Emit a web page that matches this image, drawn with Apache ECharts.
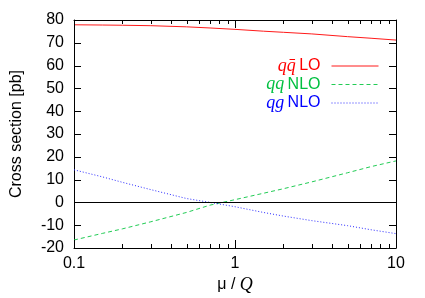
<!DOCTYPE html>
<html>
<head>
<meta charset="utf-8">
<script src="https://cdn.jsdelivr.net/npm/echarts@6/dist/echarts.min.js"></script>
<style>
html,body{margin:0;padding:0;background:#fff;}
#c{width:425px;height:298px;}
</style>
</head>
<body>
<div id="c"></div>
<script>
const mu      = [0.1, 0.15, 0.2, 0.3, 0.5, 0.7, 1, 1.5, 2, 3, 5, 7, 10];
const qqbarLO = [77.9, 77.8, 77.7, 77.5, 77.0, 76.5, 75.9, 75.1, 74.6, 73.9, 72.7, 72.0, 71.2];
const qqNLO   = [-16.5, -13.6, -11.6, -8.5, -4.4, -1.2, 1.2, 4.0, 6.0, 9.0, 13.0, 15.7, 18.2];
const qgNLO   = [14.3, 11.2, 8.8, 5.6, 1.7, 0.0, -1.9, -4.4, -6.0, -8.0, -10.2, -12.0, -13.7];
const xMajorTicks = [0.1, 1, 10];
const xMinorTicks = [0.2,0.3,0.4,0.5,0.6,0.7,0.8,0.9,2,3,4,5,6,7,8,9];
const yTicks = [-20, -10, 0, 10, 20, 30, 40, 50, 60, 70, 80];
const xMin = 0.1, xMax = 10, yMin = -20, yMax = 80, yStep = 10;
const xTitle = 'μ / ', xTitleVar = 'Q';
const yTitle = 'Cross section [pb]';

const sans = 'Liberation Sans, Arial, sans-serif';
const serif = 'Liberation Serif, DejaVu Serif, serif';

function pairs(ys){ return mu.map((x,i)=>[x, ys[i]]); }
const crisp = v => Math.round(v) + 0.5;

const chart = echarts.init(document.getElementById('c'), null, {renderer:'canvas'});

const legendText = {
  'qqbar LO': '{ir|qq\u0304} {rr|LO}',
  'qq NLO':   '{ig|qq} {rg|NLO}',
  'qg NLO':   '{ib|qg} {rb|NLO}'
};
const rich = {};
[['r','#ff0000'],['g','#00c040'],['b','#0000ff']].forEach(([k,c])=>{
  rich['i'+k] = {fontFamily:serif, fontStyle:'italic', fontSize:18, color:c, lineHeight:16};
  rich['r'+k] = {fontFamily:sans, fontSize:16, color:c, lineHeight:16, padding:[0,6,0,0]};
});

chart.setOption({
  animation:false,
  backgroundColor:'#fff',
  grid:{left:74, right:29, top:20, bottom:50, containLabel:false},
  legend:{
    orient:'vertical', align:'right', right:46, top:57, padding:0,
    itemWidth:47, itemHeight:10, itemGap:0.5,
    itemStyle:{opacity:0},
    lineStyle:{width:1},
    formatter: n => legendText[n],
    textStyle:{rich:rich},
    data:['qqbar LO','qq NLO','qg NLO']
  },
  xAxis:[
    {type:'log', logBase:10, min:xMin, max:xMax, position:'bottom',
     axisLine:{show:true, onZero:false, lineStyle:{color:'#000', width:1}},
     axisTick:{show:false},
     axisLabel:{show:true, margin:8, color:'#000', fontFamily:sans, fontSize:16, formatter: v => String(v)},
     splitLine:{show:false}, minorTick:{show:false}},
    {type:'log', logBase:10, min:xMin, max:xMax, position:'top',
     axisLine:{show:true, onZero:false, lineStyle:{color:'#000', width:1}},
     axisTick:{show:false}, axisLabel:{show:false}, splitLine:{show:false}}
  ],
  yAxis:[
    {type:'value', min:yMin, max:yMax, interval:yStep, position:'left',
     axisLine:{show:true, onZero:false, lineStyle:{color:'#000', width:1}},
     axisTick:{show:false},
     axisLabel:{margin:10, color:'#000', fontFamily:sans, fontSize:16},
     splitLine:{show:false}},
    {type:'value', min:yMin, max:yMax, interval:yStep, position:'right',
     axisLine:{show:true, onZero:false, lineStyle:{color:'#000', width:1}},
     axisTick:{show:false}, axisLabel:{show:false}, splitLine:{show:false}}
  ],
  series:[
    {name:'qqbar LO', type:'line', data:pairs(qqbarLO), symbol:'none', xAxisIndex:0, yAxisIndex:0,
     lineStyle:{color:'#ff1a1a', width:1, type:'solid'}, itemStyle:{color:'#ff1a1a'},
     markLine:{silent:true, symbol:'none', label:{show:false},
       lineStyle:{color:'#000', width:1, type:'solid'}, data:[{yAxis:0}]}},
    {name:'qq NLO', type:'line', data:pairs(qqNLO), symbol:'none', xAxisIndex:0, yAxisIndex:0,
     lineStyle:{color:'#22cc55', width:1, type:[4,3]}, itemStyle:{color:'#22cc55'}},
    {name:'qg NLO', type:'line', data:pairs(qgNLO), symbol:'none', xAxisIndex:0, yAxisIndex:0,
     lineStyle:{color:'#2a2aff', width:1, type:[1,2]}, itemStyle:{color:'#2a2aff'}}
  ]
});

// inward ticks on all four sides and axis titles, placed through the axis scales
const toPx = (x, y) => chart.convertToPixel({xAxisIndex:0, yAxisIndex:0}, [x, y]);
const els = [];
const tickStyle = {stroke:'#000', lineWidth:1};
function addXTick(v, len){
  const b = toPx(v, yMin), t = toPx(v, yMax);
  const x = crisp(b[0]);
  els.push({type:'line', silent:true, z:50, shape:{x1:x, y1:b[1], x2:x, y2:b[1]-len}, style:tickStyle});
  els.push({type:'line', silent:true, z:50, shape:{x1:x, y1:t[1], x2:x, y2:t[1]+len}, style:tickStyle});
}
xMajorTicks.forEach(v => addXTick(v, 8));
xMinorTicks.forEach(v => addXTick(v, 4));
yTicks.forEach(v => {
  const l = toPx(xMin, v), r = toPx(xMax, v);
  const y = crisp(l[1]);
  els.push({type:'line', silent:true, z:50, shape:{x1:l[0], y1:y, x2:l[0]+7, y2:y}, style:tickStyle});
  els.push({type:'line', silent:true, z:50, shape:{x1:r[0], y1:y, x2:r[0]-7, y2:y}, style:tickStyle});
});
const p0 = toPx(xMin, yMin), p1 = toPx(xMax, yMax);
els.push({type:'text', silent:true, x:(p0[0]+p1[0])/2, y:p0[1]+37,
  style:{text:'{a|' + xTitle + '}{b|' + xTitleVar + '}', align:'center', verticalAlign:'middle',
    rich:{a:{fontFamily:sans, fontSize:16, fill:'#000'}, b:{fontFamily:serif, fontStyle:'italic', fontSize:18, fill:'#000'}}}});
els.push({type:'text', silent:true, x:p0[0]-57, y:(p0[1]+p1[1])/2, rotation:Math.PI/2,
  style:{text:yTitle, align:'center', verticalAlign:'middle', fontFamily:sans, fontSize:16, fill:'#000'}});
chart.setOption({graphic:{elements:els}});
</script>
</body>
</html>
